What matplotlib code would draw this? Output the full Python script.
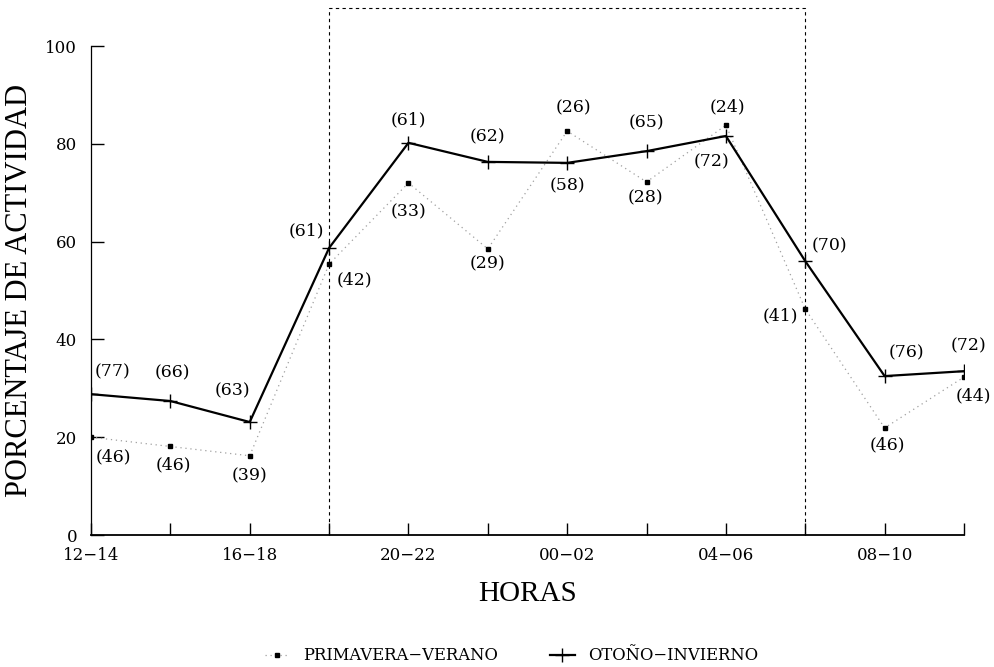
import matplotlib.pyplot as plt

# franjas horarias (cada 2 h), etiquetas solo en una de cada dos
horas = ["12\u221214", "14\u221216", "16\u221218", "18\u221220", "20\u221222", "22\u221224",
         "00\u221202", "02\u221204", "04\u221206", "06\u221208", "08\u221210", "10\u221212"]

# porcentaje de actividad por estacion
primavera = [20.0, 18.1, 16.2, 55.4, 72.0, 58.5, 82.6, 72.2, 83.8, 46.2, 21.9, 32.3]
otono = [28.8, 27.4, 23.1, 58.7, 80.2, 76.3, 76.1, 78.5, 81.6, 56.0, 32.5, 33.5]

# tamaño de muestra de cada punto
n_primavera = [46, 46, 39, 42, 33, 29, 26, 28, 24, 41, 46, 44]
n_otono = [77, 66, 63, 61, 61, 62, 58, 65, 72, 70, 76, 72]

# desplazamiento (px) de cada etiqueta respecto a su punto
off_primavera = [(22, -20), (3, -18), (0, -20), (25, -16), (0, -29), (0, -15),
                 (6, 23), (-1, -16), (2, 18), (-25, -7), (3, -17), (9, -19)]
off_otono = [(22, 22), (2, 28), (-17, 31), (-23, 17), (0, 23), (0, 25),
             (0, -23), (0, 28), (-14, -26), (24, 15), (22, 23), (5, 25)]

plt.rcParams['font.family'] = 'DejaVu Serif'

fig = plt.figure(figsize=(9.95, 6.67), dpi=100)
ax = fig.add_axes([91 / 995, 1 - 535 / 667, (964 - 91) / 995, (535 - 46) / 667])

x = list(range(len(horas)))

ax.plot(x, primavera, color='#a0a0a0', lw=0.9, ls=(0, (1, 3)), marker='s', ms=3,
        mfc='black', mec='black', zorder=3, label='PRIMAVERA\u2212VERANO')
ax.plot(x, otono, color='black', lw=1.6, marker='+', ms=9.5, mew=1.0, zorder=4,
        label='OTOÑO\u2212INVIERNO')

for xi, yi, n, (dx, dy) in zip(x, primavera, n_primavera, off_primavera):
    ax.annotate(f"({n})", (xi, yi), xytext=(dx * 0.72, dy * 0.72),
                textcoords='offset points', ha='center', va='center', fontsize=12.5)
for xi, yi, n, (dx, dy) in zip(x, otono, n_otono, off_otono):
    ax.annotate(f"({n})", (xi, yi), xytext=(dx * 0.72, dy * 0.72),
                textcoords='offset points', ha='center', va='center', fontsize=12.5)

# recuadro del periodo nocturno (18-20 a 06-08)
ax.plot([3, 3, 9, 9], [0, 107.8, 107.8, 0], color='black', lw=0.8,
        ls=(0, (3, 3)), clip_on=False, zorder=1)

ax.set_xlim(0, 11)
ax.set_ylim(0, 100)
ax.set_xticks(x)
ax.set_xticklabels([h if i % 2 == 0 else "" for i, h in enumerate(horas)], fontsize=12)
ax.set_yticks([0, 20, 40, 60, 80, 100])
ax.tick_params(axis='both', direction='in', length=9, width=1, labelsize=12)
ax.tick_params(axis='x', pad=9)
ax.tick_params(axis='y', pad=10)
for s in ['top', 'right']:
    ax.spines[s].set_visible(False)
ax.spines['left'].set_linewidth(0.9)
ax.spines['bottom'].set_linewidth(1.3)

ax.set_ylabel("PORCENTAJE DE ACTIVIDAD", family='Liberation Serif', fontsize=22, labelpad=8)
ax.set_xlabel("HORAS", family='Liberation Serif', fontsize=21, labelpad=12)

fig.legend(loc='lower center', bbox_to_anchor=(0.514, -0.006), ncol=2, frameon=False,
           fontsize=11.8, handlelength=1.5, columnspacing=3.2, borderaxespad=0)

fig.savefig("out.png", dpi=100)
